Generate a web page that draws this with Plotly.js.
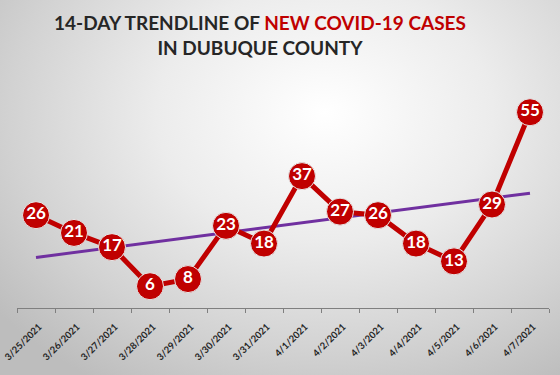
<!DOCTYPE html>
<html>
<head>
<meta charset="utf-8">
<script src="https://cdn.plot.ly/plotly-3.0.1.min.js"></script>
<style>
  html, body { margin: 0; padding: 0; }
  body { width: 560px; height: 375px; overflow: hidden;
    background: radial-gradient(ellipse 75% 85% at 58% 30%, #ffffff 0%, #ececec 40%, #d2d2d2 75%, #bdbdbd 100%); }
  #chart { width: 560px; height: 375px; }
</style>
</head>
<body>
<div id="chart"></div>
<script>
const dates = ["3/25/2021","3/26/2021","3/27/2021","3/28/2021","3/29/2021","3/30/2021","3/31/2021",
               "4/1/2021","4/2/2021","4/3/2021","4/4/2021","4/5/2021","4/6/2021","4/7/2021"];
const cases = [26, 21, 17, 6, 8, 23, 18, 37, 27, 26, 18, 13, 29, 55];
const trendDays = [0, 13];
const trendValues = [14.1, 32.2];

const idx = dates.map((d, i) => i);
const boundaries = dates.map((d, i) => i - 0.5).concat([dates.length - 0.5]);

const traces = [
  {
    x: trendDays, y: trendValues,
    type: 'scatter', mode: 'lines',
    line: { color: '#7030a0', width: 3 },
    hoverinfo: 'skip'
  },
  {
    x: idx, y: cases,
    type: 'scatter', mode: 'lines+markers+text',
    line: { color: '#c00000', width: 5 },
    marker: { size: 27, color: '#c00000', line: { color: '#e6e6e6', width: 1 } },
    text: cases.map(String), textposition: 'middle center',
    textfont: { family: 'Lato, sans-serif', size: 17, color: '#ffffff', weight: 'bold' },
    cliponaxis: false, hoverinfo: 'skip'
  }
];

const layout = {
  width: 560, height: 375,
  margin: { l: 0, r: 0, t: 0, b: 0 },
  paper_bgcolor: 'rgba(0,0,0,0)', plot_bgcolor: 'rgba(0,0,0,0)',
  showlegend: false,
  title: {
    text: '14-DAY TRENDLINE OF <span style="color:#c00000">NEW COVID-19 CASES</span><br>IN DUBUQUE COUNTY',
    font: { family: 'Lato, sans-serif', size: 19, color: '#262626', weight: 'bold' },
    x: 260 / 560, xanchor: 'center', xref: 'paper',
    y: 1 - 30 / 375, yanchor: 'top', yref: 'container'
  },
  xaxis: {
    domain: [17 / 560, 549 / 560],
    range: [-0.5, dates.length - 0.5],
    tickmode: 'array', tickvals: idx, ticktext: dates,
    ticks: '', tickangle: -45, ticklabeloverflow: 'allow',
    ticklabelstandoff: 9, ticklabelshift: 3,
    tickfont: { family: 'Lato, sans-serif', size: 9.5, color: '#262626', weight: 'bold' },
    showline: true, linecolor: '#7f7f7f', linewidth: 1,
    showgrid: false, zeroline: false,
    minor: { tickmode: 'array', tickvals: boundaries, ticks: 'outside', ticklen: 4, tickcolor: '#7f7f7f', showgrid: false },
    fixedrange: true
  },
  yaxis: {
    domain: [67.5 / 375, 1], range: [0, 86.6],
    visible: false, fixedrange: true
  }
};

Plotly.newPlot('chart', traces, layout, { displayModeBar: false, staticPlot: true });
</script>
</body>
</html>
